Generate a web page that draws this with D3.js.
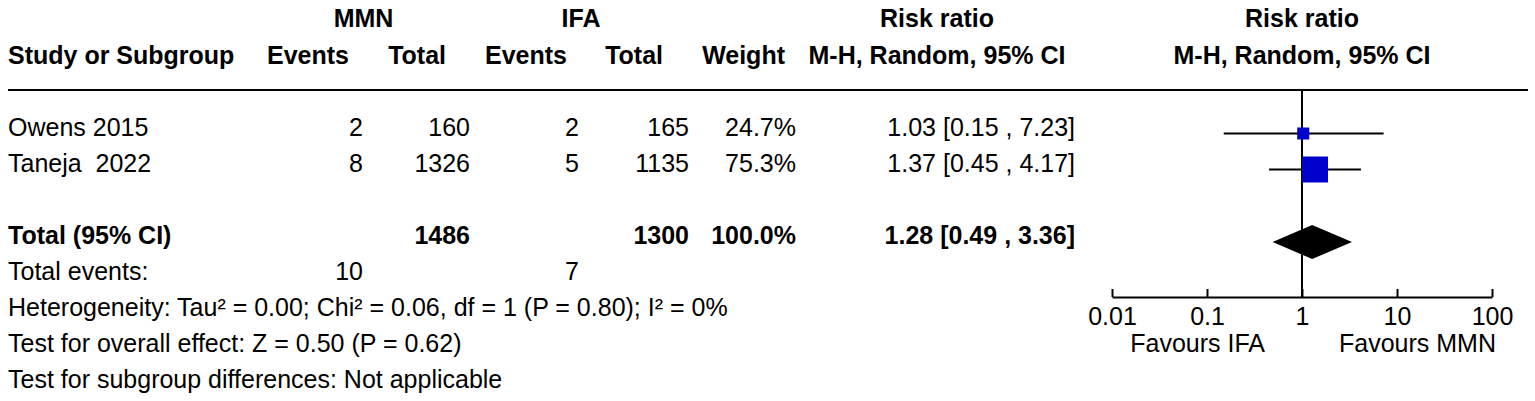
<!DOCTYPE html>
<html>
<head>
<meta charset="utf-8">
<script src="https://cdn.jsdelivr.net/npm/d3@7"></script>
<style>
  body { margin: 0; background: #fff; }
  svg text { font-family: "Liberation Sans", Arial, sans-serif; font-size: 25px; fill: #000; white-space: pre; }
</style>
</head>
<body>
<div id="forest"></div>
<script>
const studies = ["Owens 2015", "Taneja  2022"];
const mmnEvents = [2, 8];
const mmnTotal = [160, 1326];
const ifaEvents = [2, 5];
const ifaTotal = [165, 1135];
const weights = [24.7, 75.3];
const rr = [1.03, 1.37];
const rrLow = [0.15, 0.45];
const rrHigh = [7.23, 4.17];

const pooled = { rr: 1.28, low: 0.49, high: 3.36 };
const totalN = [1486, 1300];
const totalEvents = [10, 7];
const footnotes = [
    "Heterogeneity: Tau² = 0.00; Chi² = 0.06, df = 1 (P = 0.80); I² = 0%",
    "Test for overall effect: Z = 0.50 (P = 0.62)",
    "Test for subgroup differences: Not applicable"
];
const tickValues = [0.01, 0.1, 1, 10, 100];
const tickLabels = ["0.01", "0.1", "1", "10", "100"];

const width = 1535, height = 401;

const svg = d3.select("#forest")
    .append("svg")
    .attr("width", width)
    .attr("height", height);

// column anchors (right edges for numbers)
const col = { study: 8, mmnE: 363, mmnT: 470, ifaE: 579, ifaT: 689, weight: 796, ci: 1075 };
const head = { mmnE: 349, mmnT: 446, ifaE: 567, ifaT: 663, weight: 785 };

const x = d3.scaleLog().domain([0.01, 100]).range([1112, 1492]);
const rowY = d3.scaleLinear().domain([0, 1]).range([136, 172]);
const boxSize = d3.scaleLinear().domain(d3.extent(weights)).range([12, 26]);

const fmt2 = d3.format(".2f");
const ciText = (m, l, h) => `${fmt2(m)} [${fmt2(l)} , ${fmt2(h)}]`;

function txt(xp, yp, s, anchor, bold) {
    svg.append("text")
        .attr("x", xp)
        .attr("y", yp)
        .attr("text-anchor", anchor || "start")
        .attr("font-weight", bold ? "bold" : null)
        .text(s);
}

// Header
txt(363.5, 27, "MMN", "middle", true);
txt(581, 27, "IFA", "middle", true);
txt(937, 27, "Risk ratio", "middle", true);
txt(x(1), 27, "Risk ratio", "middle", true);
txt(col.study, 64, "Study or Subgroup", "start", true);
txt(head.mmnE, 64, "Events", "end", true);
txt(head.mmnT, 64, "Total", "end", true);
txt(head.ifaE, 64, "Events", "end", true);
txt(head.ifaT, 64, "Total", "end", true);
txt(head.weight, 64, "Weight", "end", true);
txt(937, 64, "M-H, Random, 95% CI", "middle", true);
txt(x(1), 64, "M-H, Random, 95% CI", "middle", true);

svg.append("line")
    .attr("x1", 8).attr("x2", 1528)
    .attr("y1", 90).attr("y2", 90)
    .attr("stroke", "#000").attr("stroke-width", 2);

// Study rows
studies.forEach((s, i) => {
    const y = rowY(i);
    txt(col.study, y, s);
    txt(col.mmnE, y, mmnEvents[i], "end");
    txt(col.mmnT, y, mmnTotal[i], "end");
    txt(col.ifaE, y, ifaEvents[i], "end");
    txt(col.ifaT, y, ifaTotal[i], "end");
    txt(col.weight, y, d3.format(".1f")(weights[i]) + "%", "end");
    txt(col.ci, y, ciText(rr[i], rrLow[i], rrHigh[i]), "end");
});

// Totals
const yTot = rowY(3);
txt(col.study, yTot, "Total (95% CI)", "start", true);
txt(col.mmnT, yTot, totalN[0], "end", true);
txt(col.ifaT, yTot, totalN[1], "end", true);
txt(col.weight, yTot, d3.format(".1f")(d3.sum(weights)) + "%", "end", true);
txt(col.ci, yTot, ciText(pooled.rr, pooled.low, pooled.high), "end", true);

txt(col.study, rowY(4), "Total events:");
txt(col.mmnE, rowY(4), totalEvents[0], "end");
txt(col.ifaE, rowY(4), totalEvents[1], "end");

footnotes.forEach((f, i) => txt(col.study, rowY(5 + i), f));

// Axis
const axisY = 297;
svg.append("line")
    .attr("x1", x(1)).attr("x2", x(1))
    .attr("y1", 90).attr("y2", axisY)
    .attr("stroke", "#000").attr("stroke-width", 2);

// CI whiskers and boxes
studies.forEach((s, i) => {
    const cy = rowY(i) - 2.5;
    svg.append("line")
        .attr("x1", x(rrLow[i])).attr("x2", x(rrHigh[i]))
        .attr("y1", cy).attr("y2", cy)
        .attr("stroke", "#000").attr("stroke-width", 2);
    const b = boxSize(weights[i]);
    svg.append("rect")
        .attr("x", x(rr[i]) - b / 2)
        .attr("y", cy - b / 2)
        .attr("width", b)
        .attr("height", b)
        .attr("fill", "#0000cc");
});

// Pooled diamond
const dy = yTot - 2;
svg.append("path")
    .attr("d", `M${x(pooled.low)},${dy} L${x(pooled.rr)},${dy - 17} L${x(pooled.high)},${dy} L${x(pooled.rr)},${dy + 17} Z`)
    .attr("fill", "#000");

const axis = d3.axisBottom(x)
    .tickValues(tickValues)
    .tickFormat((d, i) => tickLabels[i])
    .tickSizeInner(-8)
    .tickSizeOuter(0)
    .tickPadding(10);

const gAxis = svg.append("g")
    .attr("transform", `translate(0,${axisY})`)
    .call(axis);
gAxis.select(".domain").attr("stroke-width", 2);
gAxis.selectAll(".tick line").attr("stroke-width", 2);
gAxis.selectAll("text")
    .attr("font-family", null)
    .attr("font-size", null)
    .attr("fill", "#000");

txt(x(1) - 37, 352, "Favours IFA", "end");
txt(x(1) + 37, 352, "Favours MMN", "start");
</script>
</body>
</html>
